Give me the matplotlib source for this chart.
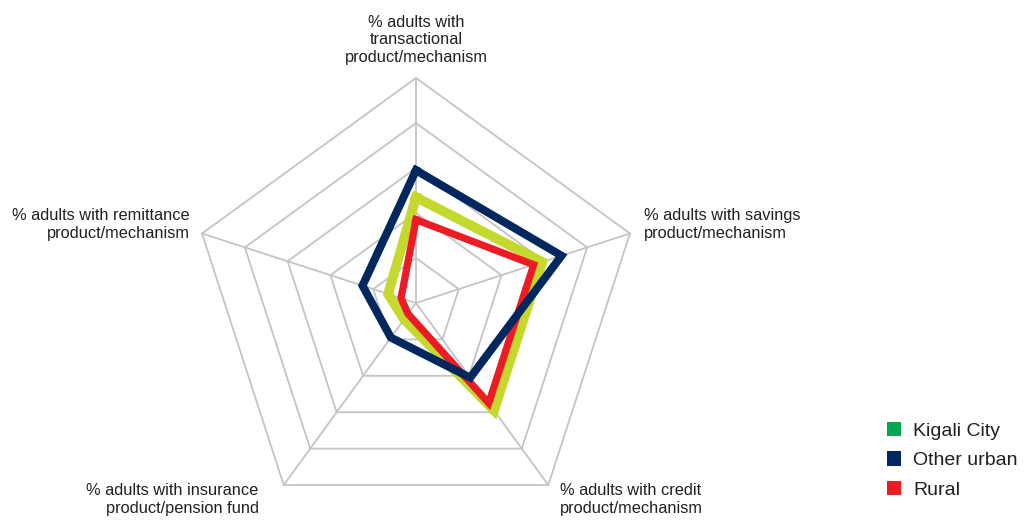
"""Radar chart -- financial product uptake by area (Kigali City / Other urban / Rural)."""

import numpy as np
import matplotlib

matplotlib.use("Agg")
import matplotlib.pyplot as plt
from matplotlib.patches import Patch

plt.rcParams["font.family"] = ["Liberation Sans", "DejaVu Sans"]

categories = [
    "% adults with\ntransactional\nproduct/mechanism",
    "% adults with savings\nproduct/mechanism",
    "% adults with credit\nproduct/mechanism",
    "% adults with insurance\nproduct/pension fund",
    "% adults with remittance\nproduct/mechanism",
]
series_names = ["Kigali City", "Other urban", "Rural"]
kigali_city = [47, 59, 59, 9, 13]
other_urban = [59, 68, 41, 19, 25]
rural = [37, 55, 55, 6, 7]
rings = [20, 40, 60, 80, 100]

line_colors = {"Kigali City": "#c4d82e", "Other urban": "#00285e", "Rural": "#ed1c24"}
legend_colors = {"Kigali City": "#00a651", "Other urban": "#00285e", "Rural": "#ed1c24"}
line_widths = {"Kigali City": 7.0, "Other urban": 5.8, "Rural": 5.2}
zorders = {"Kigali City": 3, "Rural": 4, "Other urban": 5}

n = len(categories)
angles = np.linspace(0, 2 * np.pi, n, endpoint=False)
closed = np.append(angles, angles[0])

fig = plt.figure(figsize=(10.27, 5.24), dpi=100)
# centre at about (416, 303) px, outer radius about 225 px
ax = fig.add_axes([191 / 1027, (221 - 225) / 524, 450 / 1027, 450 / 524], projection="polar")
ax.set_theta_offset(np.pi / 2)
ax.set_theta_direction(-1)
ax.set_ylim(0, 100)
ax.set_xticks([])
ax.set_yticks([])
ax.grid(False)
ax.spines["polar"].set_visible(False)
ax.patch.set_visible(False)

grid_kw = dict(color="#c4c4c4", lw=1.3, zorder=1, clip_on=False)
for r in rings:
    ax.plot(closed, [r] * (n + 1), **grid_kw)
for a in angles:
    ax.plot([a, a], [0, rings[-1]], **grid_kw)

for name, vals in zip(series_names, [kigali_city, other_urban, rural]):
    ax.plot(closed, vals + vals[:1], color=line_colors[name], lw=line_widths[name],
            solid_joinstyle="miter", zorder=zorders[name], clip_on=False)

# axis labels: (offset in px, ha, va)
label_pos = [
    ((0, 13), "center", "bottom"),
    ((14, 9), "left", "center"),
    ((12, 2), "left", "top"),
    ((-25, 2), "right", "top"),
    ((-12, 9), "right", "center"),
]
for a, text, (off, ha, va) in zip(angles, categories, label_pos):
    ax.annotate(text, xy=(a, rings[-1]), xytext=off, textcoords="offset pixels",
                ha=ha, va=va, multialignment=ha, fontsize=11.8, color="#231f20",
                linespacing=1.22, annotation_clip=False)

handles = [Patch(facecolor=legend_colors[s], edgecolor="none", label=s) for s in series_names]
fig.legend(handles=handles, loc="upper left", bbox_to_anchor=(0.856, 0.21), frameon=False,
           fontsize=14, handlelength=0.75, handleheight=0.75, handletextpad=0.6,
           labelspacing=0.6, borderaxespad=0, labelcolor="#231f20")

fig.savefig("out.png", dpi=100)
